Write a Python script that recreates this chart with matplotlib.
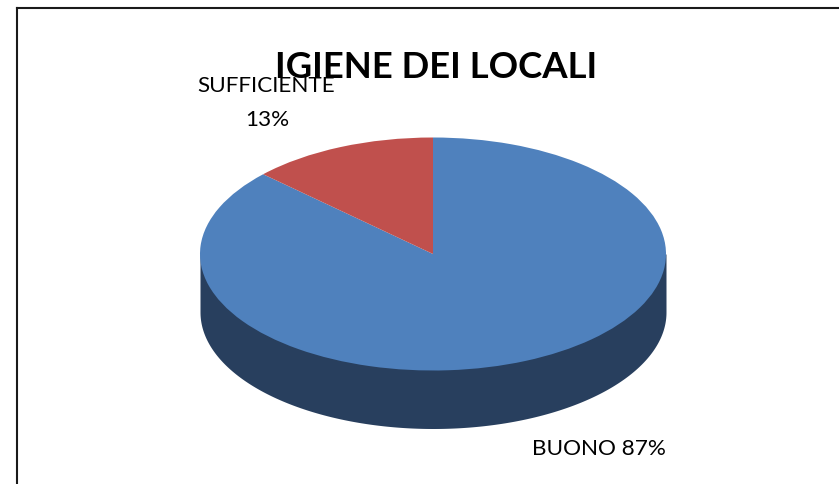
import numpy as np
import matplotlib
matplotlib.use('Agg')
import matplotlib.pyplot as plt

# data
labels = ['BUONO', 'SUFFICIENTE']
values = [87, 13]
colors = ['#4f81bd', '#c0504d']
side_color = '#283f5e'

# picture geometry in pixels
W, H = 839, 485
cx, cy = 433, 255
rx, ry = 233, 116.5
depth = 58
frame_x, frame_y = 17, 9

plt.rcParams['font.family'] = ['Lato', 'DejaVu Sans']

fig = plt.figure(figsize=(W / 100, H / 100), dpi=100)
ax = fig.add_axes([frame_x / W, 0, 1 - frame_x / W, 1 - frame_y / H])

# side wall of the 3d pie, goes up under the top face so no light seam shows
t = np.linspace(np.pi, 2 * np.pi, 300)
ax.fill_between(np.cos(t), np.sin(t) - depth / ry, 0, color=side_color, lw=0)

ax.pie(values, colors=colors, startangle=90, counterclock=False, radius=1, center=(0, 0),
       wedgeprops={'linewidth': 0})

# pie forces equal aspect, undo it so the pie is squashed to an ellipse
ax.set_aspect('auto')
ax.set_xlim((frame_x - cx) / rx, (W - cx) / rx)
ax.set_ylim((cy - H) / ry, (cy - frame_y) / ry)
ax.set_frame_on(True)
ax.patch.set_visible(False)
for side in ['right', 'bottom']:
    ax.spines[side].set_visible(False)
for side in ['top', 'left']:
    ax.spines[side].set_linewidth(1.5)
    ax.spines[side].set_color('#1a1a1a')


def to_x(px):
    return (px - cx) / rx


def to_y(py):
    return (cy - py) / ry


ax.text(to_x(266), to_y(86), labels[1], ha='center', va='center', fontsize=16.2, color='black')
ax.text(to_x(267), to_y(120), '%d%%' % values[1], ha='center', va='center', fontsize=16.2, color='black')
ax.text(to_x(599), to_y(449), '%s %d%%' % (labels[0], values[0]), ha='center', va='center', fontsize=16.2, color='black')
ax.text(to_x(436), to_y(67), 'IGIENE DEI LOCALI', ha='center', va='center', fontsize=26.3, fontweight='bold', color='black')

fig.savefig('out.png', dpi=100)
